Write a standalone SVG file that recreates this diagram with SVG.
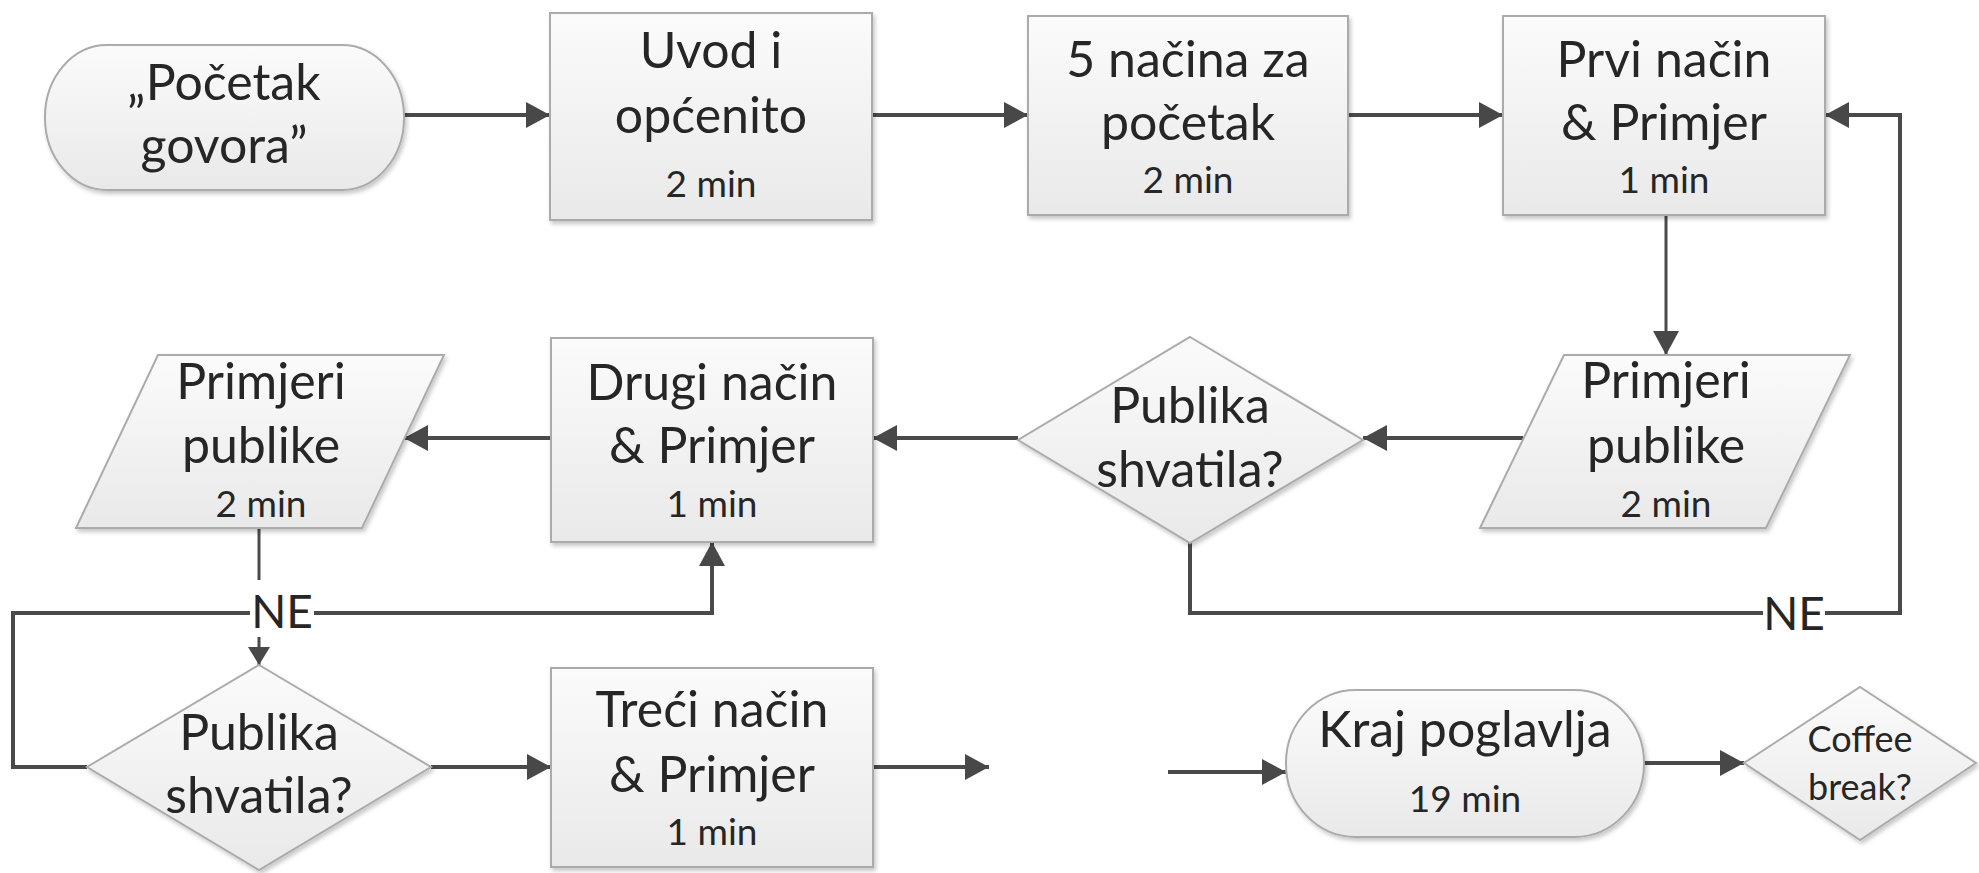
<svg xmlns="http://www.w3.org/2000/svg" width="1979" height="873" viewBox="0 0 1979 873">
  <defs>
    <linearGradient id="fillGrad" x1="0" y1="0" x2="0" y2="1">
      <stop offset="0" stop-color="#fbfbfb"/>
      <stop offset="1" stop-color="#e9e9e9"/>
    </linearGradient>
    <filter id="shadow" x="-10%" y="-10%" width="125%" height="130%">
      <feDropShadow dx="2" dy="3" stdDeviation="2" flood-color="#000" flood-opacity="0.22"/>
    </filter>
    <marker id="arrow" markerUnits="userSpaceOnUse" viewBox="0 0 24 26" refX="24" refY="13" markerWidth="24" markerHeight="26" orient="auto">
      <path d="M0,0 L24,13 L0,26 Z" fill="#484848"/>
    </marker>
    <marker id="arrowSmall" markerUnits="userSpaceOnUse" viewBox="0 0 18 22" refX="18" refY="11" markerWidth="18" markerHeight="22" orient="auto">
      <path d="M0,0 L18,11 L0,22 Z" fill="#484848"/>
    </marker>
  </defs>
  <style>
    .shape { fill: url(#fillGrad); stroke: #ababab; stroke-width: 2; filter: url(#shadow); }
    .label { font-family: Lato, 'Open Sans', sans-serif; font-size: 50px; fill: #262626; text-anchor: middle; }
    .time { font-family: Lato, 'Open Sans', sans-serif; font-size: 37px; fill: #262626; text-anchor: middle; }
    .small { font-family: Lato, 'Open Sans', sans-serif; font-size: 36px; fill: #262626; text-anchor: middle; }
    .ne { font-family: Lato, 'Open Sans', sans-serif; font-size: 46px; fill: #262626; text-anchor: middle; }
    .conn { fill: none; stroke: #4a4a4a; stroke-width: 4; }
    .conn-thin { fill: none; stroke: #4a4a4a; stroke-width: 3; }
  </style>
  <rect width="1979" height="873" fill="#ffffff"/>

  <!-- connectors -->
  <g id="connectors">
    <line class="conn" x1="404" y1="115" x2="550" y2="115" marker-end="url(#arrow)"/>
    <line class="conn" x1="873" y1="115" x2="1028" y2="115" marker-end="url(#arrow)"/>
    <line class="conn" x1="1348" y1="115" x2="1503" y2="115" marker-end="url(#arrow)"/>
    <line class="conn-thin" x1="1666" y1="215" x2="1666" y2="355" marker-end="url(#arrow)"/>
    <line class="conn" x1="1523" y1="438" x2="1363" y2="438" marker-end="url(#arrow)"/>
    <line class="conn" x1="1018" y1="438" x2="873" y2="438" marker-end="url(#arrow)"/>
    <line class="conn" x1="552" y1="438" x2="404" y2="438" marker-end="url(#arrow)"/>
    <!-- NE loop back to the first method -->
    <polyline class="conn" points="1190,542 1190,613 1763,613"/>
    <polyline class="conn" points="1825,613 1900,613 1900,115 1825,115" marker-end="url(#arrow)"/>
    <!-- NE loop back to the second method -->
    <line class="conn-thin" x1="259" y1="528" x2="259" y2="580"/>
    <line class="conn-thin" x1="259" y1="637" x2="259" y2="665" marker-end="url(#arrowSmall)"/>
    <polyline class="conn" points="250,613 13,613 13,767 87,767"/>
    <polyline class="conn" points="314,613 712,613 712,542" marker-end="url(#arrow)"/>
    <line class="conn" x1="431" y1="767" x2="551" y2="767" marker-end="url(#arrow)"/>
    <line class="conn" x1="873" y1="767" x2="989" y2="767" marker-end="url(#arrow)"/>
    <line class="conn" x1="1168" y1="772" x2="1286" y2="772" marker-end="url(#arrow)"/>
    <line class="conn" x1="1644" y1="763" x2="1744" y2="763" marker-end="url(#arrow)"/>
    <text class="ne" x="282" y="628">NE</text>
    <text class="ne" x="1794" y="630">NE</text>
  </g>

  <g id="start">
    <rect class="shape" x="45" y="45" width="359" height="145" rx="62" ry="72"/>
    <text class="label" x="224" y="100">„Početak</text>
    <text class="label" x="224" y="163">govora”</text>
  </g>

  <g id="uvod">
    <rect class="shape" x="550" y="13" width="322" height="207"/>
    <text class="label" x="711" y="68">Uvod i</text>
    <text class="label" x="711" y="133">općenito</text>
    <text class="time" x="711" y="197">2 min</text>
  </g>

  <g id="pet-nacina">
    <rect class="shape" x="1028" y="16" width="320" height="199"/>
    <text class="label" x="1188" y="77">5 načina za</text>
    <text class="label" x="1188" y="140">početak</text>
    <text class="time" x="1188" y="193">2 min</text>
  </g>

  <g id="prvi-nacin">
    <rect class="shape" x="1503" y="16" width="322" height="199"/>
    <text class="label" x="1664" y="77">Prvi način</text>
    <text class="label" x="1664" y="140">&amp; Primjer</text>
    <text class="time" x="1664" y="193">1 min</text>
  </g>

  <g id="primjeri-publike-1">
    <polygon class="shape" points="1564,355 1850,355 1766,528 1480,528"/>
    <text class="label" x="1666" y="398">Primjeri</text>
    <text class="label" x="1666" y="463">publike</text>
    <text class="time" x="1666" y="517">2 min</text>
  </g>

  <g id="odluka-1">
    <polygon class="shape" points="1190,337 1363,440 1190,543 1018,440"/>
    <text class="label" x="1190" y="423">Publika</text>
    <text class="label" x="1190" y="487">shvatila?</text>
  </g>

  <g id="drugi-nacin">
    <rect class="shape" x="551" y="338" width="322" height="204"/>
    <text class="label" x="712" y="400">Drugi način</text>
    <text class="label" x="712" y="463">&amp; Primjer</text>
    <text class="time" x="712" y="517">1 min</text>
  </g>

  <g id="primjeri-publike-2">
    <polygon class="shape" points="158,355 444,355 362,528 76,528"/>
    <text class="label" x="261" y="399">Primjeri</text>
    <text class="label" x="261" y="463">publike</text>
    <text class="time" x="261" y="517">2 min</text>
  </g>

  <g id="odluka-2">
    <polygon class="shape" points="259,665 431,767 259,870 87,767"/>
    <text class="label" x="259" y="750">Publika</text>
    <text class="label" x="259" y="813">shvatila?</text>
  </g>

  <g id="treci-nacin">
    <rect class="shape" x="551" y="668" width="322" height="199"/>
    <text class="label" x="712" y="727">Treći način</text>
    <text class="label" x="712" y="792">&amp; Primjer</text>
    <text class="time" x="712" y="845">1 min</text>
  </g>

  <g id="kraj">
    <rect class="shape" x="1286" y="690" width="358" height="147" rx="70" ry="73"/>
    <text class="label" x="1465" y="747">Kraj poglavlja</text>
    <text class="time" x="1465" y="812">19 min</text>
  </g>

  <g id="coffee-break">
    <polygon class="shape" points="1860,687 1976,763 1860,840 1744,763"/>
    <text class="small" x="1860" y="752">Coffee</text>
    <text class="small" x="1860" y="800">break?</text>
  </g>
</svg>
